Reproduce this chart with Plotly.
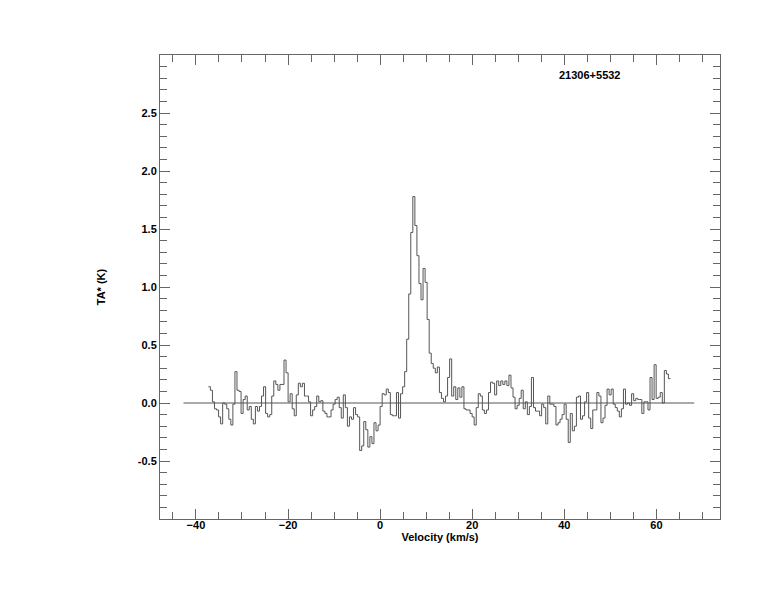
import numpy as np
import plotly.graph_objects as go

# ---- data ----
SOURCE_NAME = "21306+5532"
VEL_START = -37.3      # km/s, left edge of first channel
CHAN_WIDTH = 0.444     # km/s per channel
TA = [
    0.14, 0.11, 0.01, -0.05, -0.06, -0.12, -0.18, 0.00, -0.01, -0.05,
    -0.14, -0.19, -0.01, 0.27, 0.11, 0.10, -0.09, 0.03, 0.06, -0.06,
    -0.03, -0.14, -0.18, -0.03, -0.07, -0.03, 0.06, 0.14, -0.09, -0.12,
    -0.10, 0.06, 0.19, 0.16, 0.11, 0.16, 0.16, 0.37, 0.26, 0.01,
    0.08, -0.05, -0.11, 0.07, 0.17, 0.14, 0.17, 0.06, 0.06, 0.01,
    -0.11, -0.06, -0.03, 0.06, 0.01, 0.02, -0.07, -0.09, -0.12, -0.12,
    -0.06, -0.01, 0.03, 0.05, -0.04, -0.13, 0.07, -0.04, -0.20, -0.12,
    -0.14, -0.04, -0.10, -0.12, -0.41, -0.37, -0.16, -0.23, -0.38, -0.29,
    -0.35, -0.17, -0.24, -0.19, -0.03, 0.08, 0.07, 0.12, 0.09, -0.10,
    -0.11, -0.11, 0.09, -0.13, 0.08, 0.14, 0.27, 0.55, 0.94, 1.47,
    1.78, 1.53, 1.27, 1.03, 0.89, 1.16, 1.04, 0.72, 0.43, 0.34,
    0.30, 0.26, 0.31, 0.09, 0.04, 0.01, 0.06, 0.22, 0.38, 0.06,
    0.14, 0.03, 0.13, 0.05, 0.14, -0.05, -0.06, -0.06, -0.09, -0.12,
    -0.19, -0.04, 0.08, 0.06, -0.06, -0.09, -0.06, 0.09, 0.18, 0.17,
    0.07, 0.19, 0.15, 0.19, 0.16, 0.19, 0.15, 0.24, 0.13, 0.05,
    -0.05, -0.02, 0.04, 0.11, -0.05, 0.01, -0.10, -0.03, 0.22, -0.04,
    -0.07, -0.07, -0.11, -0.01, -0.04, -0.18, 0.06, -0.01, -0.01, -0.03,
    -0.19, -0.17, -0.14, -0.10, -0.01, -0.14, -0.34, -0.09, -0.24, -0.20,
    0.05, 0.06, -0.14, -0.11, 0.01, 0.09, -0.13, -0.22, -0.06, -0.06,
    0.09, 0.06, -0.17, -0.13, -0.02, 0.12, 0.07, 0.12, -0.01, -0.04,
    -0.07, -0.12, -0.05, 0.12, -0.01, 0.00, -0.02, 0.08, 0.02, 0.04,
    0.03, 0.03, -0.09, 0.01, 0.01, -0.06, 0.22, 0.03, 0.33, 0.04,
    0.05, 0.09, 0.00, 0.28, 0.25, 0.21,
]
BASELINE_V = [-42.7, 68.2]
BASELINE_T = [0.0, 0.0]
X_RANGE = [-47.8, 73.8]
Y_RANGE = [-1.0, 3.0]
X_TICKS = [-40, -20, 0, 20, 40, 60]
Y_TICKS = [-0.5, 0.0, 0.5, 1.0, 1.5, 2.0, 2.5]
Y_TICK_TEXT = ["-0.5", "0.0", "0.5", "1.0", "1.5", "2.0", "2.5"]
LABEL_POS = (45.5, 2.83)

# channel edges for a step ("histogram") line
n = len(TA)
edges = VEL_START + CHAN_WIDTH * np.arange(n + 1)
step_y = list(TA) + [TA[-1]]

LINE_COL = "#555555"
AX_COL = "#666666"
FONT = dict(family="Liberation Sans, Arial, sans-serif", size=11, color="black", weight="bold")

fig = go.Figure()
fig.add_trace(go.Scatter(x=BASELINE_V, y=BASELINE_T, mode="lines",
                         line=dict(color=LINE_COL, width=1), hoverinfo="skip"))
fig.add_trace(go.Scatter(x=edges, y=step_y, mode="lines", line_shape="hv",
                         line=dict(color=LINE_COL, width=1)))

fig.add_annotation(x=LABEL_POS[0], y=LABEL_POS[1], xref="x", yref="y",
                   text=SOURCE_NAME, showarrow=False, font=FONT)

fig.update_layout(
    width=766, height=604,
    margin=dict(l=152, r=54, t=47, b=93),
    paper_bgcolor="white", plot_bgcolor="white",
    showlegend=False,
    font=FONT,
)
fig.update_xaxes(
    range=X_RANGE, tickvals=X_TICKS, ticks="inside", ticklen=10, tickcolor=AX_COL,
    tickwidth=1, showline=True, linecolor=AX_COL, linewidth=1, mirror="allticks",
    showgrid=False, zeroline=False, tickfont=FONT, ticklabelstandoff=-4,
    minor=dict(dtick=5, tick0=0, ticks="inside", ticklen=7, tickcolor=AX_COL, showgrid=False),
    title=dict(text="Velocity (km/s)", font=FONT, standoff=0),
)
fig.update_yaxes(
    range=Y_RANGE, tickvals=Y_TICKS, ticktext=Y_TICK_TEXT, ticks="inside", ticklen=10,
    tickcolor=AX_COL, tickwidth=1, showline=True, linecolor=AX_COL, linewidth=1,
    mirror="allticks", showgrid=False, zeroline=False, tickfont=FONT,
    minor=dict(dtick=0.1, tick0=0, ticks="inside", ticklen=7, tickcolor=AX_COL, showgrid=False),
    title=dict(text="TA* (K)", font=FONT, standoff=29),
)

fig.write_html("out.html")
